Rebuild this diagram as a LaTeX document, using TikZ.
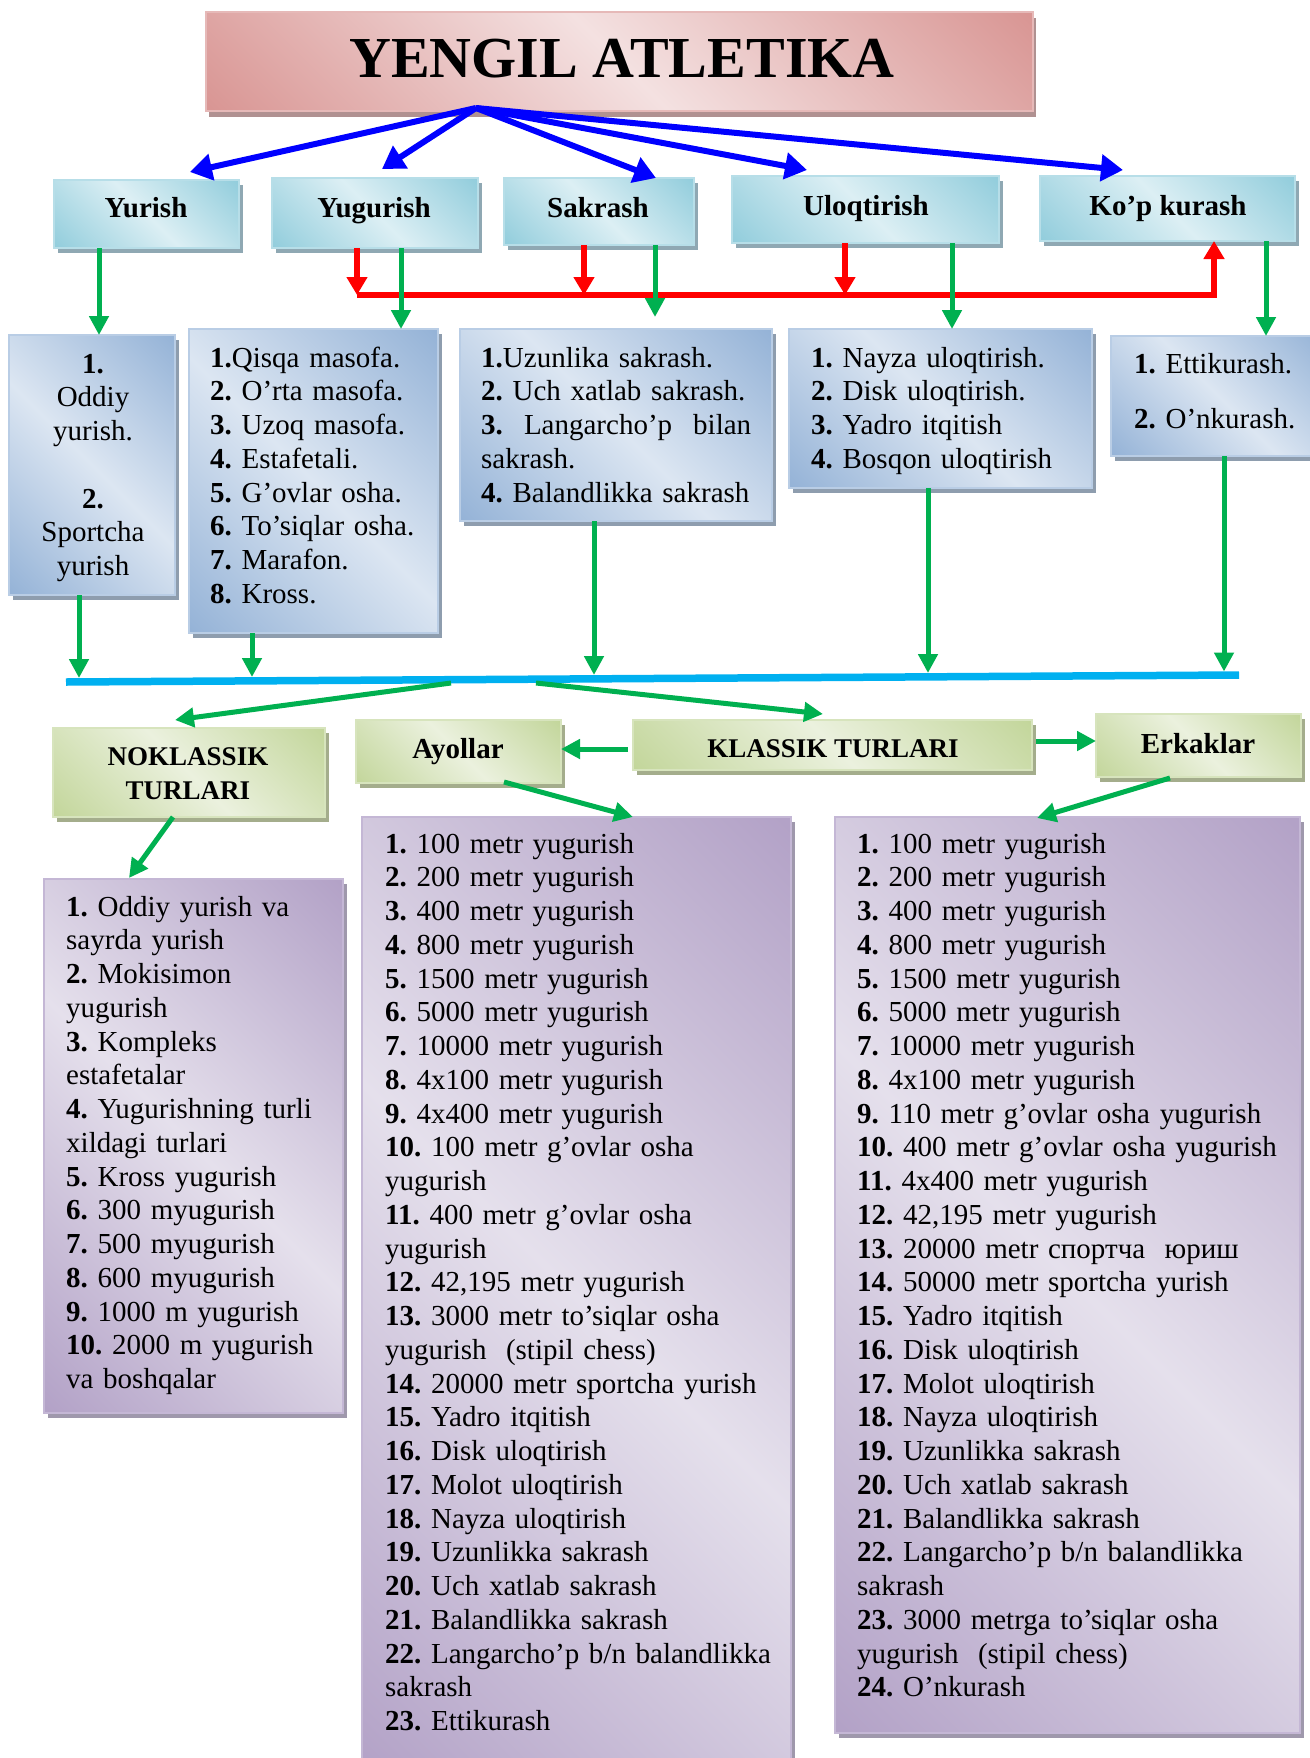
\documentclass[tikz,border=0pt]{standalone}
\usepackage{fontspec}
\setmainfont{Liberation Serif}
\usetikzlibrary{arrows.meta,shadows}
\frenchspacing

\definecolor{cyd}{HTML}{92CDDC}
\definecolor{cyl}{HTML}{DCEFF4}
\definecolor{cyb}{HTML}{B7DEE8}
\definecolor{cys}{HTML}{8FA8B3}
\definecolor{pkd}{HTML}{D99694}
\definecolor{pkl}{HTML}{F4E1E1}
\definecolor{pkb}{HTML}{E6B9B8}
\definecolor{pks}{HTML}{B09191}
\definecolor{bld}{HTML}{95B3D7}
\definecolor{bll}{HTML}{DCE6F2}
\definecolor{blb}{HTML}{B9CDE5}
\definecolor{bls}{HTML}{8E9DAE}
\definecolor{gnd}{HTML}{C3D69B}
\definecolor{gnl}{HTML}{EBF1DE}
\definecolor{gnb}{HTML}{D7E4BD}
\definecolor{gns}{HTML}{A4AD8C}
\definecolor{pud}{HTML}{B3A2C7}
\definecolor{pul}{HTML}{E5E0EC}
\definecolor{pub}{HTML}{C4B7D5}
\definecolor{pus}{HTML}{9F98AC}
\definecolor{arblue}{HTML}{0000FF}
\definecolor{argreen}{HTML}{00B050}
\definecolor{arred}{HTML}{FF0000}
\definecolor{arcyan}{HTML}{00B0F0}

\pgfdeclarehorizontalshading{shcy}{100bp}{color(0bp)=(cyd); color(15bp)=(cyd); color(50bp)=(cyl); color(85bp)=(cyd); color(100bp)=(cyd)}
\pgfdeclarehorizontalshading{shpk}{100bp}{color(0bp)=(pkd); color(15bp)=(pkd); color(50bp)=(pkl); color(85bp)=(pkd); color(100bp)=(pkd)}
\pgfdeclarehorizontalshading{shbl}{100bp}{color(0bp)=(bld); color(15bp)=(bld); color(50bp)=(bll); color(85bp)=(bld); color(100bp)=(bld)}
\pgfdeclarehorizontalshading{shgn}{100bp}{color(0bp)=(gnd); color(15bp)=(gnd); color(50bp)=(gnl); color(85bp)=(gnd); color(100bp)=(gnd)}
\pgfdeclarehorizontalshading{shpu}{100bp}{color(0bp)=(pud); color(15bp)=(pud); color(50bp)=(pul); color(85bp)=(pud); color(100bp)=(pud)}

\begin{document}
\begin{tikzpicture}[x=1pt,y=-1pt,
  box/.style={anchor=north west, inner sep=0pt, outer sep=0pt, line width=1.5pt, shading angle=45},
  pkbox/.style={box, draw=pkb, shading=shpk, drop shadow={shadow xshift=3pt, shadow yshift=-6pt, fill=pks, opacity=1}},
  cybox/.style={box, draw=cyb, shading=shcy, drop shadow={shadow xshift=4pt, shadow yshift=-5pt, fill=cys, opacity=1}},
  blbox/.style={box, draw=blb, shading=shbl, drop shadow={shadow xshift=4pt, shadow yshift=-5pt, fill=bls, opacity=1}},
  gnbox/.style={box, draw=gnb, shading=shgn, drop shadow={shadow xshift=4pt, shadow yshift=-5pt, fill=gns, opacity=1}},
  pubox/.style={box, draw=pub, shading=shpu, drop shadow={shadow xshift=4pt, shadow yshift=-5pt, fill=pus, opacity=1}},
  hdr/.style={anchor=base, inner sep=0pt, font=\bfseries\fontsize{29}{33}\selectfont},
  hdrs/.style={anchor=base, inner sep=0pt, font=\bfseries\fontsize{27}{34}\selectfont},
  listtxt/.style={anchor=base west, inner sep=0pt, align=left, font=\frenchspacing\fontsize{29}{33.75}\selectfont},
  bluearr/.style={draw=arblue, line width=6pt, -{Triangle[length=22pt,width=26pt]}},
  grarr/.style={draw=argreen, line width=5pt, -{Triangle[length=19pt,width=19pt]}},
  redarr/.style={draw=arred, line width=5.5pt, line join=miter, -{Triangle[length=18pt,width=20pt]}},
  cyline/.style={draw=arcyan, line width=7.5pt}
]
\useasboundingbox (0,0) rectangle (1309,1758);

% ---------------- boxes ----------------
\node[pkbox, minimum width=827pt, minimum height=99pt] (title) at (206,12) {};
\node[cybox, minimum width=185pt, minimum height=68pt] (yurish) at (54,180) {};
\node[cybox, minimum width=206pt, minimum height=70pt] (yugurish) at (272,178) {};
\node[cybox, minimum width=190pt, minimum height=67pt] (sakrash) at (504,178) {};
\node[cybox, minimum width=267pt, minimum height=67pt] (uloq) at (732,176) {};
\node[cybox, minimum width=255pt, minimum height=65pt] (kop) at (1040,176) {};
\node[blbox, minimum width=166pt, minimum height=260pt] (l1) at (9,335) {};
\node[blbox, minimum width=249pt, minimum height=304pt] (l2) at (189,329) {};
\node[blbox, minimum width=312pt, minimum height=192pt] (l3) at (460,329) {};
\node[blbox, minimum width=303pt, minimum height=159pt] (l4) at (789,329) {};
\node[blbox, minimum width=215pt, minimum height=120pt] (l5) at (1111,336) {};
\node[gnbox, minimum width=272pt, minimum height=89pt] (nokl) at (53,728) {};
\node[gnbox, minimum width=205pt, minimum height=63pt] (ayol) at (356,720) {};
\node[gnbox, minimum width=399pt, minimum height=50pt] (klas) at (633,720) {};
\node[gnbox, minimum width=205pt, minimum height=63pt] (erk) at (1096,714) {};
\node[pubox, minimum width=299pt, minimum height=534pt] (nlist) at (44,879) {};
\node[pubox, minimum width=429pt, minimum height=960pt] (alist) at (362,817) {};
\node[pubox, minimum width=465pt, minimum height=916pt] (elist) at (835,817) {};

% ---------------- coordinates ----------------
\coordinate (hub) at (476,108);
\coordinate (b1) at (190,172);
\coordinate (b2) at (382,169);
\coordinate (b3) at (656,178);
\coordinate (b4) at (807,170);
\coordinate (b5) at (1123,170);
\coordinate (gx1) at (99,0);
\coordinate (gx2) at (401,0);
\coordinate (gx3) at (655,0);
\coordinate (gt3) at (655,317);
\coordinate (gx4) at (952,0);
\coordinate (gx5) at (1266,0);
\coordinate (rA) at (357,295);
\coordinate (rB) at (1214,295);
\coordinate (rs) at (584,0);
\coordinate (ru) at (845,0);
\coordinate (cL) at (66,682);
\coordinate (cR) at (1239,675);
\coordinate (gd1) at (79,678);
\coordinate (gd2) at (252,677);
\coordinate (gd3) at (594,675);
\coordinate (gd4) at (928,673);
\coordinate (gd5) at (1224,671.5);
\coordinate (cs1) at (451,683);
\coordinate (ct1) at (175,720);
\coordinate (cs2) at (536,683);
\coordinate (ct2) at (823,714);
\coordinate (ka) at (628,749);
\coordinate (ke) at (1036,741);
\coordinate (ns) at (173,817);
\coordinate (nt) at (129,878);
\coordinate (as) at (504,782);
\coordinate (at) at (633,817);
\coordinate (es) at (1170,778);
\coordinate (et) at (1037,818);

% ---------------- connectors ----------------
\draw[bluearr] (hub) -- (b1);
\draw[bluearr] (hub) -- (b2);
\draw[bluearr] (hub) -- (b3);
\draw[bluearr] (hub) -- (b4);
\draw[bluearr] (hub) -- (b5);

\draw[redarr] (yugurish.south -| rA) -- (rA);
\draw[redarr] (sakrash.south -| rs) -- (rs |- rA);
\draw[redarr] (uloq.south -| ru) -- (ru |- rA);
\draw[redarr] (rA) -- (rB) -- (kop.south -| rB);

\draw[grarr] (yurish.south -| gx1) -- (l1.north -| gx1);
\draw[grarr] (yugurish.south -| gx2) -- (l2.north -| gx2);
\draw[grarr] (sakrash.south -| gx3) -- (gt3);
\draw[grarr] (uloq.south -| gx4) -- (l4.north -| gx4);
\draw[grarr] (kop.south -| gx5) -- (l5.north -| gx5);

\draw[cyline] (cL) -- (cR);
\draw[grarr] (l1.south -| gd1) -- (gd1);
\draw[grarr] (l2.south -| gd2) -- (gd2);
\draw[grarr] (l3.south -| gd3) -- (gd3);
\draw[grarr] (l4.south -| gd4) -- (gd4);
\draw[grarr] (l5.south -| gd5) -- (gd5);

\draw[grarr] (cs1) -- (ct1);
\draw[grarr] (cs2) -- (ct2);
\draw[grarr] (ka) -- (ayol.east |- ka);
\draw[grarr] (ke) -- (erk.west |- ke);
\draw[grarr] (ns) -- (nt);
\draw[grarr] (as) -- (at);
\draw[grarr] (es) -- (et);

% ---------------- texts ----------------
\node[anchor=base, inner sep=0pt, font=\bfseries\fontsize{58}{60}\selectfont] (ttitle) at (622,78) {YENGIL ATLETIKA};
\node[hdr] (tyurish) at (146,217) {Yurish};
\node[hdr] (tyugurish) at (374,217) {Yugurish};
\node[hdr] (tsakrash) at (598,217) {Sakrash};
\node[hdr] (tuloq) at (866,215) {Uloqtirish};
\node[hdr] (tkop) at (1168,215) {Ko’p kurash};

\node[listtxt, anchor=base, align=center, text width=160pt] (tl1) at (93,373)
 {\textbf{1.}\\Oddiy\\yurish.\\[33.75pt]\textbf{2.}\\Sportcha\\yurish};
\node[listtxt, text width=225pt] (tl2) at (210,367)
 {\textbf{1.}Qisqa masofa.\\
  \textbf{2.} O’rta masofa.\\
  \textbf{3.} Uzoq masofa.\\
  \textbf{4.} Estafetali.\\
  \textbf{5.} G’ovlar osha.\\
  \textbf{6.} To’siqlar osha.\\
  \textbf{7.} Marafon.\\
  \textbf{8.} Kross.};
\node[listtxt, text width=270pt] (tl3) at (481,367)
 {\textbf{1.}Uzunlika sakrash.\\
  \textbf{2.} Uch xatlab sakrash.\\
  \textbf{3.}\hfill Langarcho’p\hfill bilan\\
  sakrash.\\
  \textbf{4.} Balandlikka sakrash};
\node[listtxt, text width=275pt] (tl4) at (811,367)
 {\textbf{1.} Nayza uloqtirish.\\
  \textbf{2.} Disk uloqtirish.\\
  \textbf{3.} Yadro itqitish\\
  \textbf{4.} Bosqon uloqtirish};
\node[listtxt, text width=170pt] (tl5) at (1134,373)
 {\textbf{1.} Ettikurash.\\[21.25pt]
  \textbf{2.} O’nkurash.};

\node[hdrs, align=center, text width=260pt] (tnokl) at (188,765) {NOKLASSIK\\TURLARI};
\node[hdr] (tayol) at (458,758) {Ayollar};
\node[hdrs] (tklas) at (833,757) {KLASSIK TURLARI};
\node[hdr] (terk) at (1198,753) {Erkaklar};

\node[listtxt, text width=275pt] (tnlist) at (66,916)
 {\textbf{1.} Oddiy yurish va\\
  sayrda yurish\\
  \textbf{2.} Mokisimon\\
  yugurish\\
  \textbf{3.} Kompleks\\
  estafetalar\\
  \textbf{4.} Yugurishning turli\\
  xildagi turlari\\
  \textbf{5.} Kross yugurish\\
  \textbf{6.} 300 myugurish\\
  \textbf{7.} 500 myugurish\\
  \textbf{8.} 600 myugurish\\
  \textbf{9.} 1000 m yugurish\\
  \textbf{10.} 2000 m yugurish\\
  va boshqalar};

\node[listtxt, text width=400pt] (talist) at (385,853)
 {\textbf{1.} 100 metr yugurish\\
  \textbf{2.} 200 metr yugurish\\
  \textbf{3.} 400 metr yugurish\\
  \textbf{4.} 800 metr yugurish\\
  \textbf{5.} 1500 metr yugurish\\
  \textbf{6.} 5000 metr yugurish\\
  \textbf{7.} 10000 metr yugurish\\
  \textbf{8.} 4x100 metr yugurish\\
  \textbf{9.} 4x400 metr yugurish\\
  \textbf{10.} 100 metr g’ovlar osha\\
  yugurish\\
  \textbf{11.} 400 metr g’ovlar osha\\
  yugurish\\
  \textbf{12.} 42,195 metr yugurish\\
  \textbf{13.} 3000 metr to’siqlar osha\\
  yugurish\ \ (stipil chess)\\
  \textbf{14.} 20000 metr sportcha yurish\\
  \textbf{15.} Yadro itqitish\\
  \textbf{16.} Disk uloqtirish\\
  \textbf{17.} Molot uloqtirish\\
  \textbf{18.} Nayza uloqtirish\\
  \textbf{19.} Uzunlikka sakrash\\
  \textbf{20.} Uch xatlab sakrash\\
  \textbf{21.} Balandlikka sakrash\\
  \textbf{22.} Langarcho’p b/n balandlikka\\
  sakrash\\
  \textbf{23.} Ettikurash};

\node[listtxt, text width=435pt] (telist) at (857,853)
 {\textbf{1.} 100 metr yugurish\\
  \textbf{2.} 200 metr yugurish\\
  \textbf{3.} 400 metr yugurish\\
  \textbf{4.} 800 metr yugurish\\
  \textbf{5.} 1500 metr yugurish\\
  \textbf{6.} 5000 metr yugurish\\
  \textbf{7.} 10000 metr yugurish\\
  \textbf{8.} 4x100 metr yugurish\\
  \textbf{9.} 110 metr g’ovlar osha yugurish\\
  \textbf{10.} 400 metr g’ovlar osha yugurish\\
  \textbf{11.} 4x400 metr yugurish\\
  \textbf{12.} 42,195 metr yugurish\\
  \textbf{13.} 20000 metr спортча\ \ юриш\\
  \textbf{14.} 50000 metr sportcha yurish\\
  \textbf{15.} Yadro itqitish\\
  \textbf{16.} Disk uloqtirish\\
  \textbf{17.} Molot uloqtirish\\
  \textbf{18.} Nayza uloqtirish\\
  \textbf{19.} Uzunlikka sakrash\\
  \textbf{20.} Uch xatlab sakrash\\
  \textbf{21.} Balandlikka sakrash\\
  \textbf{22.} Langarcho’p b/n balandlikka\\
  sakrash\\
  \textbf{23.} 3000 metrga to’siqlar osha\\
  yugurish\ \ (stipil chess)\\
  \textbf{24.} O’nkurash};
\end{tikzpicture}
\end{document}
